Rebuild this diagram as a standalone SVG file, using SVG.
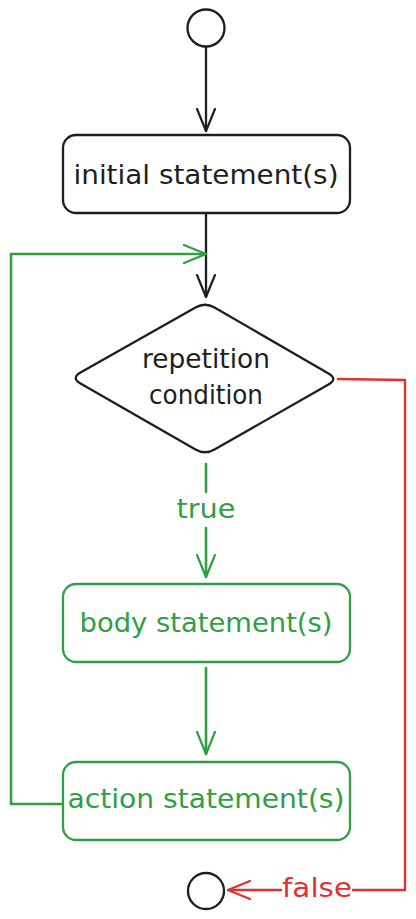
<svg xmlns="http://www.w3.org/2000/svg" width="416" height="919" viewBox="0 0 416 919">
<style>
.t{font-family:"DejaVu Sans","Noto Sans",sans-serif;font-size:27px;text-anchor:middle}
.k{fill:#1e1e1e}.g{fill:#2f9e44}.r{fill:#e03131}
.sk{fill:#fff;stroke:#1e1e1e;stroke-width:2.3}
.sg{fill:#fff;stroke:#2f9e44;stroke-width:2.3}
.lk{fill:none;stroke:#1e1e1e;stroke-width:2.3;stroke-linecap:round;stroke-linejoin:round}
.lg{fill:none;stroke:#2f9e44;stroke-width:2.6;stroke-linecap:round;stroke-linejoin:round}
.lr{fill:none;stroke:#e03131;stroke-width:2.4;stroke-linecap:round;stroke-linejoin:round}
</style>
<defs>
<marker id="ak" viewBox="0 0 24 20" refX="23" refY="10" markerWidth="24" markerHeight="20" markerUnits="userSpaceOnUse" orient="auto"><path d="M1,1 L23,10 L1,19" fill="none" stroke="#1e1e1e" stroke-width="2.2" stroke-linecap="round" stroke-linejoin="round"/></marker>
<marker id="ag" viewBox="0 0 24 20" refX="23" refY="10" markerWidth="24" markerHeight="20" markerUnits="userSpaceOnUse" orient="auto"><path d="M1,1 L23,10 L1,19" fill="none" stroke="#2f9e44" stroke-width="2.2" stroke-linecap="round" stroke-linejoin="round"/></marker>
<marker id="ar" viewBox="0 0 24 20" refX="23" refY="10" markerWidth="24" markerHeight="20" markerUnits="userSpaceOnUse" orient="auto"><path d="M1,1 L23,10 L1,19" fill="none" stroke="#e03131" stroke-width="2.2" stroke-linecap="round" stroke-linejoin="round"/></marker>
</defs>
<rect width="416" height="919" fill="#fff"/>
<g id="connectors">
<path class="lk" d="M206,47 L206,131" marker-end="url(#ak)"/>
<path class="lk" d="M206,214 L206,297" marker-end="url(#ak)"/>
<path class="lg" d="M63,804 L11,804 L11,254 L206,254" marker-end="url(#ag)"/>
<path class="lg" d="M206,464 L206,492"/>
<path class="lg" d="M206,528 L206,577" marker-end="url(#ag)"/>
<text class="t g" x="206" y="518" textLength="59" lengthAdjust="spacingAndGlyphs">true</text>
<path class="lg" d="M206,668 L206,754" marker-end="url(#ag)"/>
<path class="lr" d="M338,379 L405,380 L405,890 L353,890"/>
<path class="lr" d="M281,890 L228,890" marker-end="url(#ar)"/>
<text class="t r" x="317" y="897" textLength="70" lengthAdjust="spacingAndGlyphs">false</text>
</g>
<g id="start"><circle class="sk" cx="206" cy="28" r="18.5"/></g>
<g id="initial">
<rect class="sk" x="63" y="135" width="287" height="78" rx="13"/>
<text class="t k" x="206" y="184" textLength="265" lengthAdjust="spacingAndGlyphs">initial statement(s)</text>
</g>
<g id="condition">
<path class="sk" d="M214.5,307.5 L328.5,373.5 Q338,379 328.5,384.5 L214.5,449.5 Q205,455 195.5,449.5 L80.5,383.5 Q71,378 80.5,372.5 L195.5,307.5 Q205,302 214.5,307.5 Z"/>
<text class="t k" x="206" y="368" textLength="128" lengthAdjust="spacingAndGlyphs">repetition</text>
<text class="t k" x="206" y="404" textLength="114" lengthAdjust="spacingAndGlyphs">condition</text>
</g>
<g id="body">
<rect class="sg" x="63" y="584" width="287" height="78" rx="13"/>
<text class="t g" x="206" y="632" textLength="253" lengthAdjust="spacingAndGlyphs">body statement(s)</text>
</g>
<g id="action">
<rect class="sg" x="63" y="762" width="287" height="78" rx="13"/>
<text class="t g" x="206" y="808" textLength="277" lengthAdjust="spacingAndGlyphs">action statement(s)</text>
</g>
<g id="end"><circle class="sk" cx="206" cy="891" r="18"/></g>
</svg>
